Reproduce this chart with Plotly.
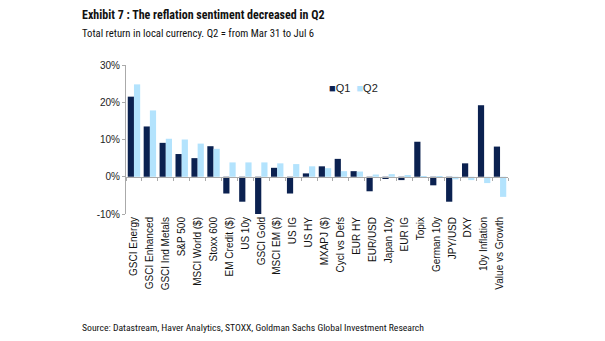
import plotly.graph_objects as go

categories = ["GSCI Energy", "GSCI Enhanced", "GSCI Ind Metals", "S&P 500", "MSCI World ($)",
              "Stoxx 600", "EM Credit ($)", "US 10y", "GSCI Gold", "MSCI EM ($)", "US IG", "US HY",
              "MXAPJ ($)", "Cycl vs Defs", "EUR HY", "EUR/USD", "Japan 10y", "EUR IG", "Topix",
              "German 10y", "JPY/USD", "DXY", "10y Inflation", "Value vs Growth"]
q1 = [21.5, 13.5, 9.1, 6.1, 5.0, 8.2, -4.5, -6.7, -10.0, 2.4, -4.5, 0.9,
      2.8, 4.8, 1.5, -3.9, -0.6, -0.9, 9.4, -2.3, -6.7, 3.6, 19.2, 8.1]
q2 = [24.8, 17.8, 10.2, 10.0, 8.9, 7.5, 3.85, 3.85, 3.85, 3.6, 3.4, 2.8,
      2.3, 1.5, 1.4, 0.6, 0.7, 0.4, 0.2, -0.1, -0.7, -0.9, -1.7, -5.4]
y_ticks = [-10, 0, 10, 20, 30]
y_labels = ["-10%", "0%", "10%", "20%", "30%"]

DARK = "#0b2150"
LIGHT = "#b3e3fd"
COND = "Roboto Condensed, Liberation Sans, sans-serif"

fig = go.Figure()
fig.add_trace(go.Bar(name="Q1", x=categories, y=q1, marker=dict(color=DARK, line=dict(width=0))))
fig.add_trace(go.Bar(name="Q2", x=categories, y=q2, marker=dict(color=LIGHT, line=dict(width=0))))
# invisible trace to host the zero-line axis with tick marks
fig.add_trace(go.Scatter(x=categories, y=[0] * len(categories), xaxis="x2", mode="markers",
                         marker=dict(opacity=0), showlegend=False, hoverinfo="skip"))

fig.update_layout(
    width=605, height=341,
    paper_bgcolor="white", plot_bgcolor="white",
    margin=dict(l=126, r=97, t=65, b=127),
    barmode="group", bargap=0.22, bargroupgap=0,
    font=dict(family="Liberation Sans, Arial, sans-serif", color="#222", size=10),
    showlegend=False,
    xaxis=dict(type="category", showline=False, ticks="", showgrid=False, zeroline=False,
               tickangle=-90, tickfont=dict(size=10, color="#111"), range=[-0.5, 23.5]),
    xaxis2=dict(type="category", overlaying="x", matches="x", anchor="free", position=0.25,
                showline=True, linecolor="#aaaaaa", linewidth=1, ticks="outside",
                tickson="boundaries", ticklen=3, tickcolor="#aaaaaa", showticklabels=False,
                showgrid=False, zeroline=False),
    yaxis=dict(range=[-10, 30], tickvals=y_ticks, ticktext=y_labels, showgrid=False,
               zeroline=False, showline=True, linecolor="#aaaaaa", linewidth=1,
               ticks="outside", ticklen=3, tickcolor="#aaaaaa",
               tickfont=dict(size=10, color="#222")),
)

PW, PH = 382, 149
fig.add_annotation(text=f"<span style='color:{DARK}'>■</span>Q1  <span style='color:{LIGHT}'>■</span>Q2",
                   xref="paper", yref="paper", x=(327 - 126) / PW, y=1 - (88 - 65) / PH,
                   xanchor="left", yanchor="middle", showarrow=False,
                   font=dict(size=11, color="#222"))
fig.add_annotation(text="<b>Exhibit 7 : The reflation sentiment decreased in Q2</b>",
                   xref="paper", yref="paper", x=-(126 - 80) / PW, y=1 + (65 - 15) / PH,
                   xanchor="left", yanchor="middle", showarrow=False,
                   font=dict(family=COND, size=12, color="#111"))
fig.add_annotation(text="Total return in local currency. Q2 = from Mar 31 to Jul 6",
                   xref="paper", yref="paper", x=-(126 - 80) / PW, y=1 + (65 - 33) / PH,
                   xanchor="left", yanchor="middle", showarrow=False,
                   font=dict(family=COND, size=10.7, color="#111"))
fig.add_annotation(text="Source: Datastream, Haver Analytics, STOXX, Goldman Sachs Global Investment Research",
                   xref="paper", yref="paper", x=-(126 - 80) / PW, y=-(327 - 214) / PH,
                   xanchor="left", yanchor="middle", showarrow=False,
                   font=dict(family=COND, size=9.7, color="#111"))

fig.write_html("out.html")
